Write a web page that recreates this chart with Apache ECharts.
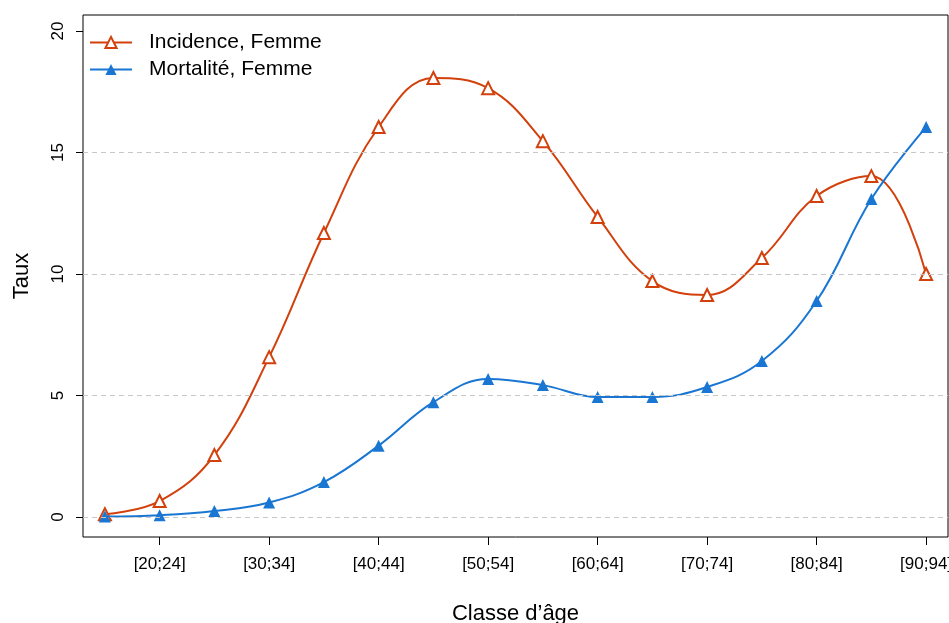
<!DOCTYPE html>
<html>
<head>
<meta charset="utf-8">
<script src="https://cdn.jsdelivr.net/npm/echarts@6/dist/echarts.min.js"></script>
<style>
html,body{margin:0;padding:0;background:#fff;}
#chart{width:949px;height:623px;}
</style>
</head>
<body>
<div id="chart"></div>
<script>
const categories = ['[15;19]','[20;24]','[25;29]','[30;34]','[35;39]','[40;44]','[45;49]','[50;54]','[55;59]','[60;64]','[65;69]','[70;74]','[75;79]','[80;84]','[85;89]','[90;94]'];
const incidence = [0.12, 0.66, 2.55, 6.58, 11.69, 16.05, 18.07, 17.65, 15.47, 12.35, 9.71, 9.14, 10.66, 13.21, 14.03, 10.0];
const mortalite = [0.02, 0.08, 0.25, 0.60, 1.44, 2.94, 4.73, 5.68, 5.43, 4.94, 4.94, 5.35, 6.42, 8.89, 13.09, 16.05];
const xTickIdx = [1, 3, 5, 7, 9, 11, 13, 15];
const yTicks = [0, 5, 10, 15, 20];
const gridLines = [0, 5, 10, 15];

const FONT = 'Liberation Sans, Arial, Helvetica, sans-serif';
const RED = '#D2400C';
const BLUE = '#1976D2';

const chart = echarts.init(document.getElementById('chart'), null, {renderer: 'canvas'});
const toPairs = arr => arr.map((v, i) => [i, v]);

chart.setOption({
  animation: false,
  backgroundColor: '#fff',
  grid: {left: 83, right: 1, top: 15, bottom: 86, containLabel: false, outerBoundsMode: 'none',
    show: true, borderColor: '#000', borderWidth: 1, backgroundColor: 'transparent'},
  legend: {
    orient: 'vertical', left: 84, top: 27,
    itemWidth: 42, itemHeight: 14, itemGap: 6,
    textStyle: {fontFamily: FONT, fontSize: 21, color: '#000', padding: [0, 0, 0, 12]},
    data: ['Incidence, Femme', 'Mortalité, Femme']
  },
  xAxis: {
    type: 'value', min: -0.4, max: 15.4,
    name: 'Classe d\u2019âge', nameLocation: 'middle', nameGap: 66,
    nameTextStyle: {fontFamily: FONT, fontSize: 22, color: '#000'},
    axisLine: {show: false, onZero: false},
    axisTick: {show: true, length: 8, lineStyle: {color: '#000'}, customValues: xTickIdx},
    axisLabel: {fontFamily: FONT, fontSize: 17, color: '#000', margin: 19, customValues: xTickIdx,
      formatter: v => categories[Math.round(v)] || ''},
    splitLine: {show: false}
  },
  yAxis: {
    type: 'value', min: -0.82, max: 20.66,
    name: 'Taux', nameLocation: 'middle', nameGap: 50,
    nameTextStyle: {fontFamily: FONT, fontSize: 22, color: '#000'},
    axisLine: {show: false, onZero: false},
    axisTick: {show: true, length: 7, lineStyle: {color: '#000'}, customValues: yTicks},
    axisLabel: {fontFamily: FONT, fontSize: 17, color: '#000', rotate: 90, margin: 16, customValues: yTicks},
    splitLine: {show: false}
  },
  series: [
    {
      name: 'Incidence, Femme', type: 'line', data: toPairs(incidence),
      smooth: 0.4, symbol: 'emptyTriangle', symbolSize: 12,
      lineStyle: {color: RED, width: 2}, itemStyle: {color: RED, borderWidth: 1.3},
      z: 3,
      markLine: {
        silent: true, symbol: 'none', label: {show: false},
        lineStyle: {color: '#c8c8c8', type: [5, 4], width: 1},
        data: gridLines.map(v => ({yAxis: v}))
      }
    },
    {
      name: 'Mortalité, Femme', type: 'line', data: toPairs(mortalite),
      smooth: 0.4, symbol: 'triangle', symbolSize: 12,
      lineStyle: {color: BLUE, width: 2}, itemStyle: {color: BLUE},
      z: 4
    }
  ]
});
</script>
</body>
</html>
